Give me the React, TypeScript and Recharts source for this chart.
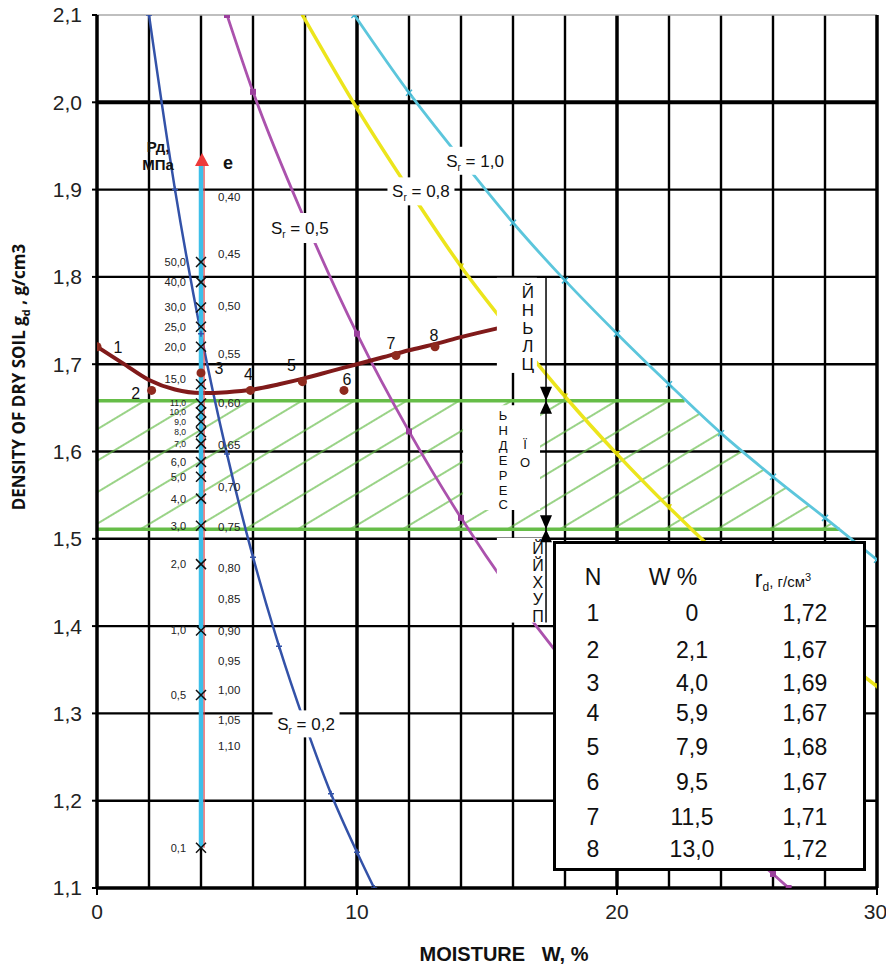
import React from 'react';
import {
  ComposedChart, Line, Area, Scatter, XAxis, YAxis,
  ReferenceLine, ReferenceArea, ReferenceDot,
} from 'recharts';

// S_r = const curves (moisture %, dry density)
const sr10W = [9.9, 12, 14, 16, 18, 20, 22, 24, 26, 28, 30];
const sr10D = [2.10, 2.011, 1.935, 1.862, 1.796, 1.735, 1.677, 1.621, 1.571, 1.524, 1.476];
const sr08W = [7.9, 10, 12, 14, 16, 18, 20, 22, 24, 26, 28, 30];
const sr08D = [2.10, 1.993, 1.900, 1.812, 1.735, 1.663, 1.597, 1.536, 1.479, 1.426, 1.377, 1.331];
const sr05W = [5.0, 6, 8, 10, 12, 14, 16, 18, 20, 22, 24, 26, 26.6];
const sr05D = [2.10, 2.012, 1.865, 1.735, 1.623, 1.524, 1.436, 1.358, 1.288, 1.225, 1.168, 1.116, 1.10];
const sr02W = [2.0, 3, 4, 5, 6, 7, 8, 9, 10, 10.66];
const sr02D = [2.10, 1.900, 1.735, 1.597, 1.479, 1.377, 1.288, 1.208, 1.141, 1.10];

// compaction test points
const pointN = [1, 2, 3, 4, 5, 6, 7, 8];
const pointW = [0, 2.1, 4.0, 5.9, 7.9, 9.5, 11.5, 13.0];
const pointD = [1.72, 1.67, 1.69, 1.67, 1.68, 1.67, 1.71, 1.72];

// smoothed compaction curve
const fitW = [0, 1, 2, 3, 4, 5, 6, 7, 8, 9, 10, 11, 12, 13, 14, 15.4];
const fitD = [1.72, 1.701, 1.682, 1.671, 1.667, 1.668, 1.671, 1.677, 1.684, 1.692, 1.700, 1.708, 1.716, 1.723, 1.731, 1.741];

// hatched band of required density
const bandLow = 1.511;
const bandHigh = 1.658;
const bandW = [0, 22.6, 24, 26, 28.56];
const bandTop = [1.658, 1.658, 1.621, 1.571, 1.511];

// pressure (MPa) and void ratio scale on w = 4
const scaleW = 4;
const scaleBottom = 1.146;
const scaleTop = 1.928;
const arrowTip = 1.942;
const pressureLabels = ['50,0', '40,0', '30,0', '25,0', '20,0', '15,0', '11,0', '10,0', '9,0', '8,0', '7,0', '6,0', '5,0', '4,0', '3,0', '2,0', '1,0', '0,5', '0,1'];
const pressureD = [1.817, 1.794, 1.765, 1.743, 1.720, 1.677, 1.655, 1.645, 1.634, 1.622, 1.609, 1.588, 1.571, 1.546, 1.515, 1.471, 1.395, 1.321, 1.146];
const voidLabels = ['0,40', '0,45', '0,50', '0,55', '0,60', '0,65', '0,70', '0,75', '0,80', '0,85', '0,90', '0,95', '1,00', '1,05', '1,10'];
const voidD = [1.892, 1.826, 1.767, 1.712, 1.656, 1.607, 1.559, 1.514, 1.467, 1.431, 1.394, 1.360, 1.327, 1.292, 1.263];

// axes
const xTicks = [0, 10, 20, 30];
const yTicks = [1.1, 1.2, 1.3, 1.4, 1.5, 1.6, 1.7, 1.8, 1.9, 2.0, 2.1];
const gridW = [2, 4, 6, 8, 10, 12, 14, 16, 18, 20, 22, 24, 26, 28];
const gridD = [1.2, 1.3, 1.4, 1.5, 1.6, 1.7, 1.8, 1.9, 2.0];

const SANS = "'Liberation Sans', Arial, sans-serif";
const NARROW = "'Liberation Sans Narrow', 'Arial Narrow', 'Liberation Sans', Arial, sans-serif";

const toPts = (ws: number[], ds: number[]) => ws.map((w, i) => ({ w, d: ds[i] }));
const comma = (v: number, digits: number) => v.toFixed(digits).replace('.', ',');

const mark = (kind: string, color: string) => (p: any) => {
  const { cx, cy, key } = p;
  if (cx == null || cy == null) return <g key={key} />;
  if (kind === 'x')
    return <path key={key} d={`M${cx - 3},${cy - 3}L${cx + 3},${cy + 3}M${cx - 3},${cy + 3}L${cx + 3},${cy - 3}`} stroke={color} strokeWidth={1.5} />;
  if (kind === 'sq')
    return <rect key={key} x={cx - 3} y={cy - 3} width={6} height={6} fill={color} />;
  if (kind === 'tri')
    return <path key={key} d={`M${cx - 3},${cy - 3}L${cx + 3},${cy - 3}L${cx},${cy + 3}Z`} fill={color} />;
  return <path key={key} d={`M${cx - 3},${cy}L${cx + 3},${cy}M${cx},${cy - 3}L${cx},${cy + 3}`} stroke={color} strokeWidth={1.5} />;
};

const SrLabel = (txt: string, bw: number, bh: number) => (p: any) => {
  const { cx, cy } = p;
  return (
    <g>
      <rect x={cx - bw / 2} y={cy - bh / 2} width={bw} height={bh} fill="#fff" />
      <text x={cx} y={cy + 6} textAnchor="middle" fontFamily={SANS} fontSize={17} fill="#111">
        <tspan>S</tspan>
        <tspan fontSize={10} dy={4}>r</tspan>
        <tspan dy={-4}>{` = ${txt}`}</tspan>
      </text>
    </g>
  );
};

const boxShape = (size: number, cols: { dx: number; chars: string[]; ys: number[] }[]) => (p: any) => {
  const { x, y, width, height } = p;
  return (
    <g>
      <rect x={x} y={y} width={width} height={height} fill="#fff" />
      {cols.map((c, ci) =>
        c.chars.map((ch, i) => (
          <text key={`${ci}-${i}`} x={x + c.dx} y={y + c.ys[i]} textAnchor="middle" fontFamily={SANS} fontSize={size} fill="#111">{ch}</text>
        )),
      )}
    </g>
  );
};

const bowtie = (p: any) => {
  const { cx, cy } = p;
  return (
    <g fill="#000">
      <path d={`M${cx - 6},${cy - 14}L${cx + 6},${cy - 14}L${cx},${cy}Z`} />
      <path d={`M${cx - 6},${cy + 13}L${cx + 6},${cy + 13}L${cx},${cy}Z`} />
    </g>
  );
};

const labelDx = [21, -16, 18, -2, -11, 3, -5, -1];
const labelDy = [0, 3, -5, -16, -17, -11, -12, -12];
// crowded pressure labels get a smaller face
const crowded = ['11,0', '10,0', '9,0', '8,0', '7,0'];

export default function App() {
  const sr10 = toPts(sr10W, sr10D);
  const sr08 = toPts(sr08W, sr08D);
  const sr05 = toPts(sr05W, sr05D);
  const sr02 = toPts(sr02W, sr02D);
  const fit = toPts(fitW, fitD);
  const points = pointW.map((w, i) => ({ w, d: pointD[i], n: pointN[i] }));
  const band = bandW.map((w, i) => ({ w, band: [bandLow, bandTop[i]] }));
  const pressure = pressureD.map((d, i) => ({ w: scaleW, d, label: pressureLabels[i] }));
  const voids = voidD.map((d, i) => ({ w: scaleW, d, label: voidLabels[i] }));
  const scaleLine = [{ w: scaleW, d: scaleBottom }, { w: scaleW, d: scaleTop }];
  const upperGreen = [{ w: 0, d: bandHigh }, { w: bandW[1], d: bandHigh }];
  const lowerGreen = [{ w: 0, d: bandLow }, { w: bandW[bandW.length - 1], d: bandLow }];

  return (
    <div style={{ position: 'absolute', left: 0, top: 0, width: 886, height: 964, overflow: 'hidden', background: '#fff' }}>
      <svg width={0} height={0} style={{ position: 'absolute' }}>
        <defs>
          <pattern id="hatch" patternUnits="userSpaceOnUse" width={10} height={27} patternTransform="rotate(-31)">
            <line x1={0} y1={13} x2={10} y2={13} stroke="#62bb45" strokeWidth={1.3} />
          </pattern>
        </defs>
      </svg>

      <ComposedChart width={886} height={964} margin={{ top: 15, right: 9, left: 0, bottom: 36 }}>
        <XAxis
          type="number" dataKey="w" domain={[0, 30]} ticks={xTicks} allowDataOverflow height={40}
          tickSize={7} tickMargin={9}
          axisLine={{ stroke: '#000', strokeWidth: 3.5 }} tickLine={{ stroke: '#000', strokeWidth: 2 }}
          tick={{ fill: '#222', fontSize: 21, fontFamily: NARROW }}
        />
        <YAxis
          type="number" dataKey="d" domain={[1.1, 2.1]} ticks={yTicks} allowDataOverflow width={97}
          tickSize={5} tickMargin={10} tickFormatter={(v: number) => comma(v, 1)}
          axisLine={{ stroke: '#000', strokeWidth: 3.5 }} tickLine={{ stroke: '#000', strokeWidth: 2 }}
          tick={{ fill: '#222', fontSize: 21, fontFamily: NARROW }}
        />

        {gridW.map((w) => (
          <ReferenceLine key={`gx${w}`} x={w} stroke="#000" strokeWidth={w % 10 === 0 ? 3.5 : 2.4} zIndex={50} />
        ))}
        {gridD.map((d) => (
          <ReferenceLine key={`gy${d}`} y={d} stroke="#000" strokeWidth={d === 2.0 ? 4 : 2.4} zIndex={50} />
        ))}
        <ReferenceLine y={2.1} stroke="#aaa" strokeWidth={1.5} zIndex={50} />
        <ReferenceLine x={30} stroke="#000" strokeWidth={3.5} zIndex={50} />

        <Area data={band} dataKey="band" type="linear" stroke="none" fill="url(#hatch)" fillOpacity={1}
          dot={false} activeDot={false} isAnimationActive={false} zIndex={100} />
        <Line data={upperGreen} dataKey="d" type="linear" stroke="#66bd48" strokeWidth={3.5} dot={false} isAnimationActive={false} zIndex={400} />
        <Line data={lowerGreen} dataKey="d" type="linear" stroke="#66bd48" strokeWidth={3.5} dot={false} isAnimationActive={false} zIndex={400} />

        <Line data={sr10} dataKey="d" type="monotone" stroke="#5cc6dc" strokeWidth={2.8} dot={mark('x', '#3fb3d0')} isAnimationActive={false} zIndex={400} />
        <Line data={sr08} dataKey="d" type="monotone" stroke="#ece51c" strokeWidth={3.5} dot={mark('tri', '#d8cf00')} isAnimationActive={false} zIndex={400} />
        <Line data={sr05} dataKey="d" type="monotone" stroke="#ab52ad" strokeWidth={2.8} dot={mark('sq', '#9b3f9d')} isAnimationActive={false} zIndex={400} />
        <Line data={sr02} dataKey="d" type="monotone" stroke="#3352a8" strokeWidth={2.5} dot={mark('plus', '#3352a8')} isAnimationActive={false} zIndex={400} />

        <Line data={fit} dataKey="d" type="monotone" stroke="#801a1a" strokeWidth={4} dot={false} isAnimationActive={false} zIndex={420} />

        <ReferenceLine
          segment={[{ x: scaleW, y: scaleBottom }, { x: scaleW, y: scaleTop }]}
          stroke="#ee3333" strokeWidth={1.2} zIndex={430}
          shape={(p: any) => <line x1={p.x1 + 3} y1={p.y1} x2={p.x2 + 3} y2={p.y2} stroke="#ee3333" strokeWidth={1.2} />}
        />
        <Line data={scaleLine} dataKey="d" type="linear" stroke="#3dbfe9" strokeWidth={4.5} dot={false} isAnimationActive={false} zIndex={440} />
        <ReferenceDot
          x={scaleW} y={arrowTip} r={0} zIndex={450}
          shape={(p: any) => (
            <g>
              <path d={`M${p.cx + 1},${p.cy}L${p.cx + 8},${p.cy + 13}L${p.cx - 6},${p.cy + 13}Z`} fill="#ee3a3a" />
              <text x={p.cx - 43} y={p.cy - 1} textAnchor="middle" fontFamily={SANS} fontWeight="bold" fontSize={15} fill="#111">Рд,</text>
              <text x={p.cx - 43} y={p.cy + 17} textAnchor="middle" fontFamily={SANS} fontWeight="bold" fontSize={15} fill="#111">МПа</text>
              <text x={p.cx + 27} y={p.cy + 16} textAnchor="middle" fontFamily={SANS} fontWeight="bold" fontSize={18} fill="#111">e</text>
            </g>
          )}
        />

        <Scatter
          data={pressure} dataKey="d" isAnimationActive={false} zIndex={600}
          shape={(p: any) => {
            const lab = p.payload.label;
            const small = crowded.includes(lab);
            const dy = lab === '15,0' ? -5 : 0;
            return (
              <g>
                <path d={`M${p.cx - 5},${p.cy - 5}L${p.cx + 5},${p.cy + 5}M${p.cx - 5},${p.cy + 5}L${p.cx + 5},${p.cy - 5}`} stroke="#111" strokeWidth={1.5} />
                <text x={p.cx - 15} y={p.cy + dy + (small ? 3 : 4)} textAnchor="end" fontFamily={SANS} fontSize={small ? 8.5 : 11} fill="#222">{lab}</text>
              </g>
            );
          }}
        />
        <Scatter
          data={voids} dataKey="d" isAnimationActive={false} zIndex={600}
          shape={(p: any) => (
            <text x={p.cx + 17} y={p.cy + 4} textAnchor="start" fontFamily={SANS} fontSize={11.5} fill="#222">{p.payload.label}</text>
          )}
        />
        <Scatter
          data={points} dataKey="d" isAnimationActive={false} zIndex={650}
          shape={(p: any) => {
            const i = p.payload.n - 1;
            return (
              <g>
                <circle cx={p.cx} cy={p.cy} r={4.5} fill="#8e2a1e" />
                <text x={p.cx + labelDx[i]} y={p.cy + labelDy[i] + 6} textAnchor="middle" fontFamily={SANS} fontSize={16} fill="#111">{p.payload.n}</text>
              </g>
            );
          }}
        />

        <ReferenceArea x1={15.38} x2={16.92} y1={1.690} y2={1.799} zIndex={1500}
          shape={boxShape(17, [{ dx: 31, chars: ['Й', 'Н', 'Ь', 'Л', 'Ц'], ys: [20, 38, 56, 74, 92] }])} />
        <ReferenceArea x1={14.08} x2={17.04} y1={1.533} y2={1.653} zIndex={1500}
          shape={boxShape(13, [
            { dx: 40, chars: ['Ь', 'Н', 'Д', 'Е', 'Р', 'Е', 'С'], ys: [15, 30, 45, 60, 75, 90, 104] },
            { dx: 62, chars: ['Ї', 'О'], ys: [44, 62] },
          ])} />
        <ReferenceArea x1={15.38} x2={17.2} y1={1.404} y2={1.501} zIndex={1500}
          shape={boxShape(16, [{ dx: 41, chars: ['Й', 'Й', 'Х', 'У', 'П'], ys: [16, 33, 50, 67, 84] }])} />

        <ReferenceLine segment={[{ x: 17.27, y: 1.799 }, { x: 17.27, y: 1.404 }]} stroke="#000" strokeWidth={1.5} zIndex={1550} />
        <ReferenceDot x={17.27} y={bandHigh} r={0} shape={bowtie} zIndex={1560} />
        <ReferenceDot x={17.27} y={bandLow} r={0} shape={bowtie} zIndex={1560} />

        <ReferenceDot x={14.54} y={1.933} r={0} shape={SrLabel('1,0', 64, 28)} zIndex={1600} />
        <ReferenceDot x={12.46} y={1.898} r={0} shape={SrLabel('0,8', 67, 28)} zIndex={1600} />
        <ReferenceDot x={7.8} y={1.856} r={0} shape={SrLabel('0,5', 64, 30)} zIndex={1600} />
        <ReferenceDot x={8.04} y={1.288} r={0} shape={SrLabel('0,2', 67, 27)} zIndex={1600} />
      </ComposedChart>

      <div style={{
        position: 'absolute', left: 20, top: 377, transform: 'translate(-50%, -50%) rotate(-90deg)',
        whiteSpace: 'nowrap', fontFamily: "'Open Sans', 'Liberation Sans', Arial, sans-serif", fontWeight: 700, fontSize: 17, color: '#111',
      }}>
        DENSITY OF DRY SOIL g<sub style={{ fontSize: 11 }}>d</sub> , g/cm3
      </div>
      <div style={{
        position: 'absolute', left: 504, top: 954, transform: 'translate(-50%, -50%)',
        whiteSpace: 'pre', fontFamily: NARROW, fontWeight: 700, fontSize: 20, color: '#111',
      }}>
        {'MOISTURE   W, %'}
      </div>

      <div style={{
        position: 'absolute', left: 553, top: 541, width: 313, height: 330, boxSizing: 'border-box',
        border: '3px solid #000', background: '#fff', fontFamily: SANS, fontSize: 23, color: '#111',
      }}>
        {[
          { x: 37, y: 33, t: <span>N</span> },
          { x: 117, y: 33, t: <span>W %</span> },
          { x: 227, y: 36, t: <span>r<span style={{ fontSize: 15 }}><sub style={{ fontSize: 12 }}>d</sub>, г/см<sup style={{ fontSize: 11 }}>3</sup></span></span> },
        ].map((c, i) => (
          <div key={`h${i}`} style={{ position: 'absolute', left: c.x, top: c.y, transform: 'translate(-50%, -50%)', whiteSpace: 'nowrap' }}>{c.t}</div>
        ))}
        {pointN.map((n, i) => {
          const rowY = [69, 106, 139, 169, 203, 238, 273, 305][i];
          const cells = [
            { x: 37, t: String(n) },
            { x: 136, t: pointW[i] === 0 ? '0' : comma(pointW[i], 1) },
            { x: 249, t: comma(pointD[i], 2) },
          ];
          return cells.map((c, j) => (
            <div key={`r${i}-${j}`} style={{ position: 'absolute', left: c.x, top: rowY, transform: 'translate(-50%, -50%)', whiteSpace: 'nowrap' }}>{c.t}</div>
          ));
        })}
      </div>
    </div>
  );
}
